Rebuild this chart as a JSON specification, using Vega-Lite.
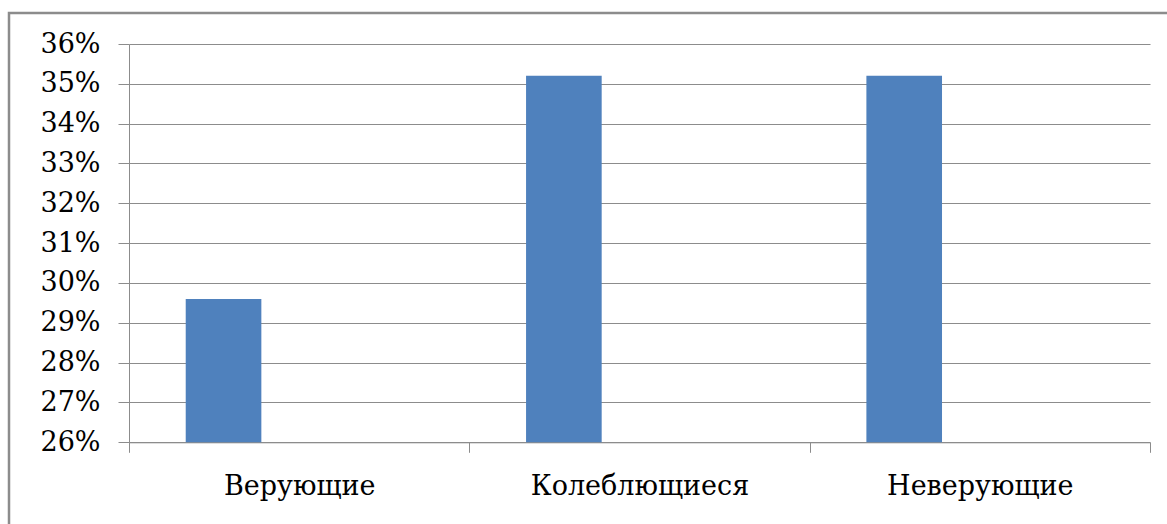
{
  "$schema": "https://vega.github.io/schema/vega-lite/v6.json",
  "autosize": "none",
  "padding": {"left": 9, "top": 13, "right": 0, "bottom": 0},
  "width": 1170,
  "height": 530,
  "background": "white",
  "config": {
    "view": {"stroke": "#8c8c8c", "strokeWidth": 2.5},
    "font": "DejaVu Serif"
  },
  "data": {
    "values": [
      {"group": "Верующие", "series": "s1", "share": 0.296},
      {"group": "Колеблющиеся", "series": "s1", "share": 0.352},
      {"group": "Неверующие", "series": "s1", "share": 0.352}
    ]
  },
  "mark": {"type": "bar", "color": "#4f81bd"},
  "encoding": {
    "x": {
      "field": "group",
      "type": "nominal",
      "sort": null,
      "scale": {"range": [120, 1141], "paddingInner": 0, "paddingOuter": 0},
      "axis": {
        "title": null,
        "offset": -100.7,
        "labelAngle": 0,
        "labelFont": "DejaVu Serif",
        "labelFontSize": 27,
        "labelColor": "#000000",
        "labelPadding": 21,
        "labelLimit": 0,
        "tickBand": "extent",
        "tickSize": 10,
        "tickColor": "#8c8c8c",
        "domainColor": "#8c8c8c",
        "grid": false
      }
    },
    "xOffset": {
      "field": "series",
      "type": "nominal",
      "scale": {"domain": ["s1", "s2", "s3"], "paddingInner": 0, "paddingOuter": 0.75}
    },
    "y": {
      "field": "share",
      "type": "quantitative",
      "scale": {"domain": [0.26, 0.36], "range": [429.3, 31], "zero": false, "nice": false},
      "axis": {
        "title": null,
        "offset": -120,
        "format": ".0%",
        "values": [0.26, 0.27, 0.28, 0.29, 0.30, 0.31, 0.32, 0.33, 0.34, 0.35, 0.36],
        "labelFont": "DejaVu Serif",
        "labelFontSize": 27,
        "labelColor": "#000000",
        "labelPadding": 18,
        "tickSize": 11,
        "tickColor": "#8c8c8c",
        "domainColor": "#8c8c8c",
        "grid": true,
        "gridColor": "#8c8c8c",
        "gridWidth": 1.2
      }
    },
    "y2": {"datum": 0.26}
  }
}
